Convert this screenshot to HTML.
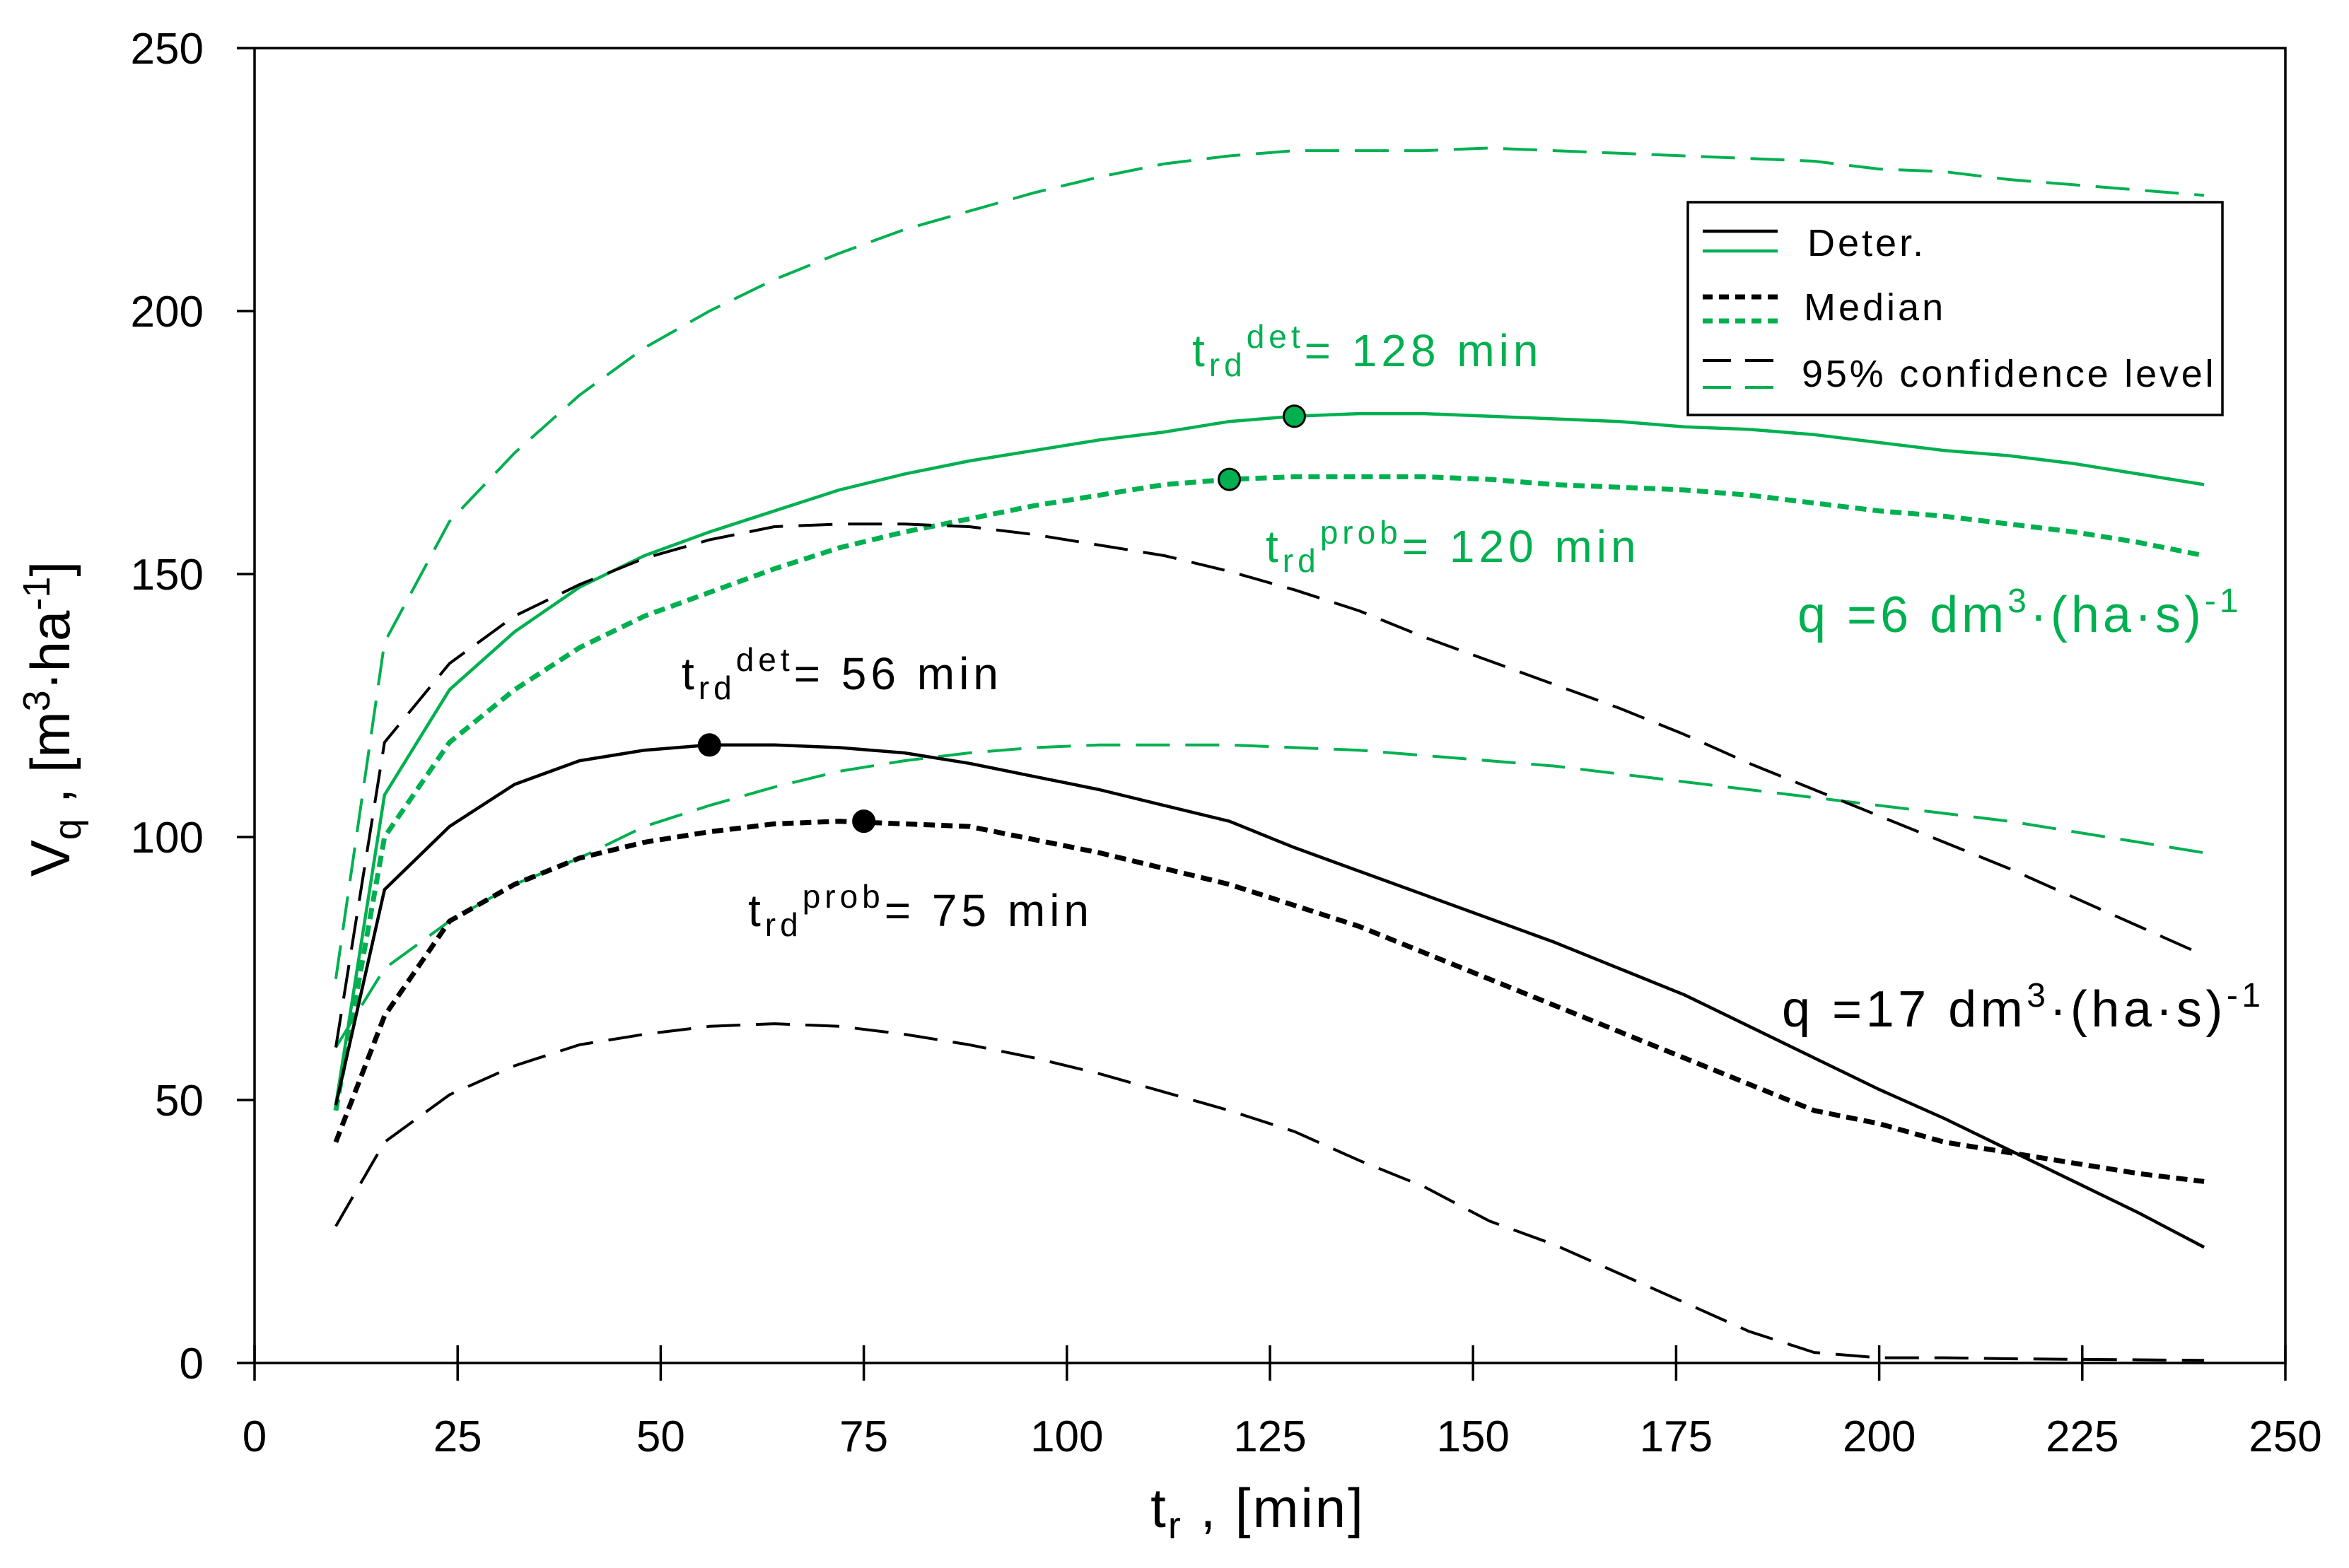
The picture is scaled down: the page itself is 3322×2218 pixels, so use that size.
<!DOCTYPE html>
<html><head><meta charset="utf-8"><style>
html,body{margin:0;padding:0;background:#fff;}
svg{display:block;font-family:"Liberation Sans",sans-serif;}
</style></head><body>
<svg id="chart" width="3322" height="2218" viewBox="0 0 3322 2218" xmlns="http://www.w3.org/2000/svg">
<rect x="360" y="68" width="2872" height="1860" fill="none" stroke="#000" stroke-width="3.5"/>
<g id="grid"></g>
<g id="series"></g>
<g id="points"></g>
<g>
<rect x="2387" y="286" width="756" height="301" fill="#fff" stroke="#000" stroke-width="3.5"/>
<line x1="2408" y1="327" x2="2514" y2="327" stroke="#000" stroke-width="4.5"/>
<line x1="2408" y1="355" x2="2514" y2="355" stroke="#00B050" stroke-width="4.5"/>
<text x="2556" y="362" font-size="54" letter-spacing="4">Deter.</text>
<line x1="2408" y1="420" x2="2514" y2="420" stroke="#000" stroke-width="7" stroke-dasharray="14 9"/>
<line x1="2408" y1="454" x2="2514" y2="454" stroke="#00B050" stroke-width="7" stroke-dasharray="14 9"/>
<text x="2551" y="453" font-size="54" letter-spacing="4">Median</text>
<line x1="2408" y1="510" x2="2514" y2="510" stroke="#000" stroke-width="4" stroke-dasharray="40 20"/>
<line x1="2408" y1="548" x2="2514" y2="548" stroke="#00B050" stroke-width="4" stroke-dasharray="40 20"/>
<text x="2548" y="547" font-size="54" letter-spacing="3.8">95% confidence level</text>
</g>
<text x="1686" y="518" font-size="64" fill="#00B050" letter-spacing="6">t<tspan font-size="46" dy="14">rd</tspan><tspan font-size="46" dy="-40">det</tspan><tspan dy="26">= 128 min</tspan></text>
<text x="1790" y="795" font-size="64" fill="#00B050" letter-spacing="6">t<tspan font-size="46" dy="14">rd</tspan><tspan font-size="46" dy="-40">prob</tspan><tspan dy="26">= 120 min</tspan></text>
<text x="2542" y="894" font-size="72" fill="#00B050" letter-spacing="5">q =6 dm<tspan font-size="48" dy="-28">3</tspan><tspan dy="28">·(ha·s)</tspan><tspan font-size="48" dy="-28">-1</tspan></text>
<text x="964" y="975" font-size="64" fill="#000" letter-spacing="6">t<tspan font-size="46" dy="14">rd</tspan><tspan font-size="46" dy="-40">det</tspan><tspan dy="26">= 56 min</tspan></text>
<text x="1058" y="1310" font-size="64" fill="#000" letter-spacing="6">t<tspan font-size="46" dy="14">rd</tspan><tspan font-size="46" dy="-40">prob</tspan><tspan dy="26">= 75 min</tspan></text>
<text x="2520" y="1452" font-size="72" fill="#000" letter-spacing="5.5">q =17 dm<tspan font-size="48" dy="-28">3</tspan><tspan dy="28">·(ha·s)</tspan><tspan font-size="48" dy="-28">-1</tspan></text>
<text x="1779" y="2160" font-size="78" text-anchor="middle" letter-spacing="3">t<tspan font-size="54" dy="16">r</tspan><tspan dy="-16"> , [min]</tspan></text>
<text transform="translate(98,1017) rotate(-90)" font-size="78" text-anchor="middle">V<tspan font-size="54" dy="16">q</tspan><tspan dy="-16"> , [m</tspan><tspan font-size="54" dy="-28">3</tspan><tspan dy="28">·ha</tspan><tspan font-size="54" dy="-28">-1</tspan><tspan dy="28">]</tspan></text>
</svg>
<script>
const tValues=[10,16,24,32,40,48,56,64,72,80,88,96,104,112,120,128,136,144,152,160,168,176,184,192,200,208,216,224,232,240];
const det17=[49,90,102,110,114.5,116.5,117.5,117.5,117,116,114,111.5,109,106,103,98,93.5,89,84.5,80,75,70,64,58,52,46.5,40.5,34.5,28.5,22];
const med17=[42,66,84,91,96,99,101,102.5,103,102.5,102,99.5,97,94,91,87,83,78,73,68,63,58,53,48,45.5,42,40,38,36,34.5];
const up17=[60,118,133,142,148,153,156.5,159,159.5,159.5,159,157.5,155.5,153.5,150.5,147,143,138,133.5,129,124.5,119.5,114,109,104,99,94,88.5,83,77.5];
const lo17=[26,42,51,56.5,60.5,62.5,64,64.5,64,62.5,60.5,58,55,51.5,48,44,38.5,33.5,27,22.5,17,11.5,6,2,1,1,0.8,0.7,0.6,0.5];
const det6=[49,108,128,139,147.5,153.5,158,162,166,169,171.5,173.5,175.5,177,179,180,180.5,180.5,180,179.5,179,178,177.5,176.5,175,173.5,172.5,171,169,167];
const med6=[48,100,118,128,136,142,146.5,151,155,158,160.5,163,165,167,168,168.5,168.5,168.5,168,167,166.5,166,165,163.5,162,161,159.5,158,156,153.5];
const up6=[73,137,160,173,184,193,200,206,211,215.5,219,222.5,225.5,228,229.5,230.5,230.5,230.5,231,230.5,230,229.5,229,228.5,227,226.5,225,224,223,222];
const lo6=[60,75,84,91,96,102,106,109.5,112.5,114.5,116,117,117.5,117.5,117.5,117,116.5,115.5,114.5,113.5,112,110.5,109,107.5,106,104.5,103,101,99,97];
const markT=[56,75,128,120];
const markV=[117.5,103,180,168];
const xTicks=[0,25,50,75,100,125,150,175,200,225,250];
const yTicks=[0,50,100,150,200,250];

const NS="http://www.w3.org/2000/svg";
const X=v=>360+v*(2872/250);
const Y=v=>1928-v*(1860/250);
function mk(tag,attrs,parent){const e=document.createElementNS(NS,tag);for(const k in attrs)e.setAttribute(k,attrs[k]);parent.appendChild(e);return e;}
const grid=document.getElementById('grid');
xTicks.forEach(t=>{
  const l=mk('line',{x1:X(t),x2:X(t),y1:1903,y2:1953,stroke:'#000','stroke-width':3.5},grid);
  
  
  const tx=mk('text',{x:X(t),y:2053,'font-size':62,'text-anchor':'middle'},grid);
  tx.textContent=t;
  
  
});
yTicks.forEach(v=>{
  const l=mk('line',{x1:335,x2:360,y1:Y(v),y2:Y(v),stroke:'#000','stroke-width':3.5},grid);
  
  
  const tx=mk('text',{x:288,y:Y(v)+22,'font-size':62,'text-anchor':'end'},grid);
  tx.textContent=v;
  
  
});
const ser=document.getElementById('series');
function line(vals,color,w,dash,name){
  const d=vals.map((v,i)=>(i?'L':'M')+X(tValues[i]).toFixed(1)+' '+Y(v).toFixed(1)).join(' ');
  const p=mk('path',{d:d,fill:'none',stroke:color,'stroke-width':w,'stroke-linejoin':'round'},ser);
  if(dash)p.setAttribute('stroke-dasharray',dash);
  
  
}
const G='#00B050';
line(up6,G,4,'48 22','line-q6-upper95');
line(lo6,G,4,'48 22','line-q6-lower95');
line(det6,G,4.5,null,'line-q6-deter');
line(med6,G,7,'16 9','line-q6-median');
line(up17,'#000',4,'48 22','line-q17-upper95');
line(lo17,'#000',4,'48 22','line-q17-lower95');
line(det17,'#000',4.5,null,'line-q17-deter');
line(med17,'#000',7,'16 9','line-q17-median');
const pts=document.getElementById('points');
const mc=['#000','#000',G,G];
markT.forEach((t,i)=>{
  const c=mk('circle',{cx:X(t),cy:Y(markV[i]),r:15,fill:mc[i],stroke:'#000','stroke-width':3},pts);
  
  
});
</script>
</body></html>
